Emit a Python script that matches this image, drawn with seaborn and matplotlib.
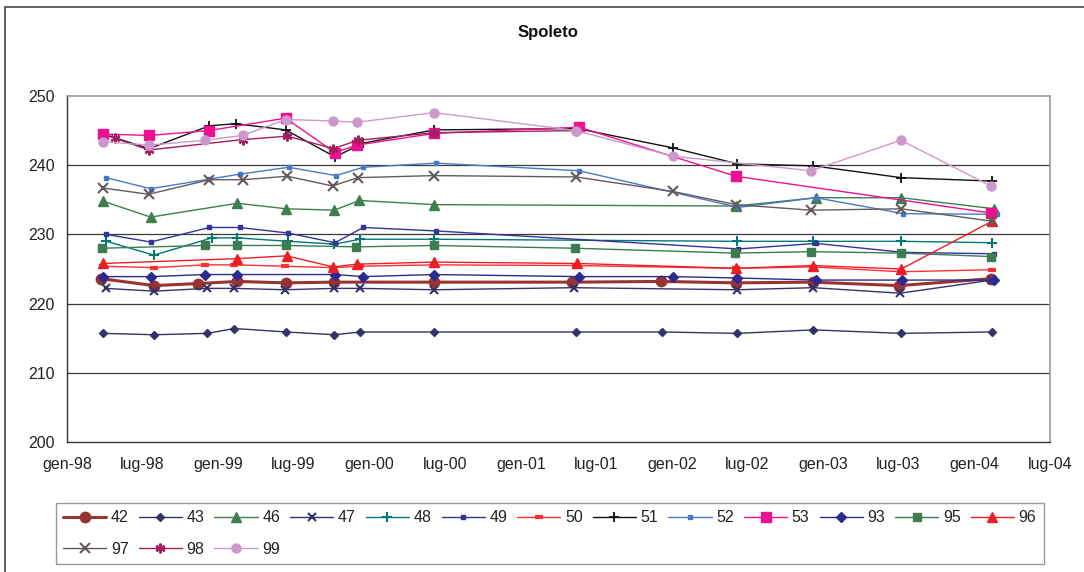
import matplotlib
matplotlib.use("Agg")
import matplotlib.pyplot as plt
from matplotlib.lines import Line2D
import pandas as pd
import seaborn as sns

# ---- data -------------------------------------------------------------
series_names = ["42", "43", "46", "47", "48", "49", "50", "51",
                "52", "53", "93", "95", "96", "97", "98", "99"]

dates_42 = ["1998-03-25", "1998-07-30", "1998-11-14", "1999-02-16", "1999-06-13", "1999-10-08",
            "2000-06-05", "2001-05-04", "2001-12-05", "2002-06-04", "2002-12-06", "2003-07-03", "2004-02-09"]
vals_42 = [223.6, 222.6, 222.9, 223.2, 223.0, 223.1, 223.1, 223.1, 223.2, 223.0, 223.1, 222.6, 223.6]

dates_43 = ["1998-03-29", "1998-07-30", "1998-12-06", "1999-02-09", "1999-06-14", "1999-10-08", "1999-12-10",
            "2000-06-06", "2001-05-14", "2001-12-07", "2002-06-07", "2002-12-08", "2003-07-08", "2004-02-12"]
vals_43 = [215.7, 215.5, 215.7, 216.4, 215.9, 215.5, 215.9, 215.9, 215.9, 215.9, 215.7, 216.2, 215.7, 215.9]

dates_46 = ["1998-03-29", "1998-07-22", "1999-02-16", "1999-06-14", "1999-10-08", "1999-12-08",
            "2000-06-06", "2002-06-04", "2002-12-14", "2003-07-08", "2004-02-18"]
vals_46 = [234.8, 232.5, 234.5, 233.7, 233.5, 234.9, 234.3, 234.1, 235.3, 235.3, 233.7]

dates_47 = ["1998-04-04", "1998-07-30", "1998-12-06", "1999-02-09", "1999-06-11", "1999-10-08", "1999-12-10",
            "2000-06-06", "2001-05-08", "2002-06-07", "2002-12-08", "2003-07-05", "2004-02-12"]
vals_47 = [222.2, 221.8, 222.2, 222.2, 222.0, 222.2, 222.2, 222.0, 222.3, 222.0, 222.3, 221.5, 223.4]

dates_48 = ["1998-04-06", "1998-07-30", "1998-12-17", "1999-02-16", "1999-06-18", "1999-10-08", "1999-12-10",
            "2000-06-06", "2002-06-07", "2002-12-08", "2003-07-08", "2004-02-12"]
vals_48 = [229.0, 227.0, 229.5, 229.5, 229.0, 228.6, 229.3, 229.3, 229.0, 229.0, 229.0, 228.8]

dates_49 = ["1998-04-06", "1998-07-22", "1998-12-11", "1999-02-22", "1999-06-18", "1999-10-10", "1999-12-17",
            "2000-06-10", "2002-06-10", "2002-12-14", "2003-07-13", "2004-02-17"]
vals_49 = [230.0, 228.9, 231.0, 231.0, 230.2, 228.8, 231.0, 230.5, 227.9, 228.7, 227.4, 227.2]

dates_50 = ["1998-03-29", "1998-07-30", "1998-11-30", "1999-02-09", "1999-06-11", "1999-10-06", "1999-12-10",
            "2000-06-06", "2001-05-14", "2002-06-04", "2002-12-06", "2003-07-08", "2004-02-12"]
vals_50 = [225.4, 225.2, 225.6, 225.6, 225.4, 225.2, 225.4, 225.6, 225.5, 225.1, 225.3, 224.6, 224.9]

dates_51 = ["1998-03-29", "1998-07-18", "1998-12-11", "1999-02-12", "1999-06-13", "1999-10-10", "1999-12-17",
            "2000-06-06", "2001-05-17", "2002-01-03", "2002-06-07", "2002-12-08", "2003-07-08", "2004-02-12"]
vals_51 = [244.5, 242.4, 245.7, 246.0, 245.1, 241.2, 243.2, 245.1, 245.3, 242.5, 240.2, 239.9, 238.2, 237.7]

dates_52 = ["1998-04-05", "1998-07-22", "1998-12-11", "1999-02-22", "1999-06-20", "1999-10-12", "1999-12-17",
            "2000-06-10", "2001-05-21", "2002-06-10", "2002-12-14", "2003-07-13", "2004-02-23"]
vals_52 = [238.2, 236.6, 238.0, 238.7, 239.7, 238.5, 239.7, 240.3, 239.2, 233.9, 235.3, 233.0, 232.9]

dates_53 = ["1998-03-29", "1998-07-18", "1998-12-09", "1999-06-13", "1999-10-10", "1999-12-01",
            "2000-06-06", "2001-05-21", "2002-06-04", "2004-02-09"]
vals_53 = [244.5, 244.3, 245.0, 246.8, 241.8, 242.9, 244.6, 245.5, 238.4, 233.1]

dates_93 = ["1998-03-29", "1998-07-22", "1998-11-30", "1999-02-16", "1999-10-10", "1999-12-17", "2000-06-06",
            "2001-05-21", "2002-01-03", "2002-06-07", "2002-12-14", "2003-07-10", "2004-02-17"]
vals_93 = [223.9, 223.9, 224.2, 224.2, 224.2, 223.9, 224.2, 223.9, 223.9, 223.7, 223.4, 223.4, 223.4]

dates_95 = ["1998-03-27", "1998-11-30", "1999-02-16", "1999-06-13", "1999-11-30", "2000-06-05",
            "2001-05-12", "2002-06-02", "2002-12-02", "2003-07-07", "2004-02-09"]
vals_95 = [228.0, 228.4, 228.4, 228.4, 228.2, 228.4, 228.0, 227.3, 227.5, 227.3, 226.8]

dates_96 = ["1998-03-29", "1999-02-16", "1999-06-15", "1999-10-06", "1999-12-01", "2000-06-06",
            "2001-05-17", "2002-06-04", "2002-12-06", "2003-07-08", "2004-02-12"]
vals_96 = [225.8, 226.5, 226.9, 225.3, 225.7, 226.0, 225.8, 225.1, 225.5, 225.0, 231.9]

dates_97 = ["1998-03-29", "1998-07-17", "1998-12-11", "1999-03-01", "1999-06-17", "1999-10-04", "1999-12-04",
            "2000-06-06", "2001-05-14", "2002-01-03", "2002-06-04", "2002-12-01", "2003-07-08", "2004-02-13"]
vals_97 = [236.7, 235.8, 237.9, 237.9, 238.4, 237.0, 238.2, 238.5, 238.3, 236.2, 234.3, 233.5, 233.7, 231.9]

dates_98 = ["1998-04-26", "1998-07-18", "1999-03-01", "1999-06-17", "1999-10-06", "1999-12-04",
            "2000-06-06", "2001-05-14"]
vals_98 = [243.9, 242.2, 243.7, 244.2, 242.4, 243.6, 244.7, 245.0]

dates_99 = ["1998-03-29", "1998-07-18", "1998-11-30", "1999-03-01", "1999-06-13", "1999-10-04", "1999-12-01",
            "2000-06-05", "2001-05-14", "2002-01-03", "2002-12-02", "2003-07-07", "2004-02-09"]
vals_99 = [243.4, 242.9, 243.6, 244.3, 246.6, 246.4, 246.2, 247.6, 245.0, 241.3, 239.2, 243.6, 237.0]

tick_dates = ["1998-01-01", "1998-07-01", "1999-01-01", "1999-07-01", "2000-01-01", "2000-07-01",
              "2001-01-01", "2001-07-01", "2002-01-01", "2002-07-01", "2003-01-01", "2003-07-01",
              "2004-01-01", "2004-07-01"]
tick_labels = ["gen-98", "lug-98", "gen-99", "lug-99", "gen-00", "lug-00", "gen-01", "lug-01",
               "gen-02", "lug-02", "gen-03", "lug-03", "gen-04", "lug-04"]
y_ticks = [200, 210, 220, 230, 240, 250]

series_data = {
    "42": (dates_42, vals_42), "43": (dates_43, vals_43), "46": (dates_46, vals_46),
    "47": (dates_47, vals_47), "48": (dates_48, vals_48), "49": (dates_49, vals_49),
    "50": (dates_50, vals_50), "51": (dates_51, vals_51), "52": (dates_52, vals_52),
    "53": (dates_53, vals_53), "93": (dates_93, vals_93), "95": (dates_95, vals_95),
    "96": (dates_96, vals_96), "97": (dates_97, vals_97), "98": (dates_98, vals_98),
    "99": (dates_99, vals_99),
}

# ---- styling per series (colour, marker, marker size, line width, marker edge width)
asterisk = (6, 2, 0)
styles = {
    "42": ("#993333", "o", 7.5, 2.2, 1.0),
    "43": ("#333366", "D", 4.2, 1.0, 1.0),
    "46": ("#3f7f4f", "^", 6.5, 1.0, 1.0),
    "47": ("#333366", "x", 5.5, 1.0, 1.5),
    "48": ("#007878", "+", 7.0, 1.0, 1.5),
    "49": ("#333399", "s", 3.2, 1.0, 1.0),
    "50": ("#ff3030", "_", 6.0, 1.0, 3.0),
    "51": ("#111111", "+", 7.0, 1.0, 1.3),
    "52": ("#4a78c8", "s", 3.5, 1.0, 1.0),
    "53": ("#ee1090", "s", 6.5, 1.0, 1.0),
    "93": ("#2a2a90", "D", 5.5, 1.0, 1.0),
    "95": ("#3c7c50", "s", 5.5, 1.0, 1.0),
    "96": ("#ee1c24", "^", 7.0, 1.0, 1.0),
    "97": ("#645a5a", "x", 6.5, 1.0, 1.5),
    "98": ("#a02060", asterisk, 7.0, 1.0, 1.6),
    "99": ("#cc99cc", "o", 6.5, 1.0, 1.0),
}

# ---- figure -------------------------------------------------------------
sns.set_theme(style="white")
plt.rcParams["font.family"] = ["Liberation Sans", "DejaVu Sans"]

W, H = 1084, 572
fig = plt.figure(figsize=(W / 100, H / 100), dpi=100)
ax = fig.add_axes([67 / W, 1 - 442 / H, (1050 - 67) / W, (442 - 96) / H])

handles = {}
for z, name in enumerate(series_names):
    d, v = series_data[name]
    col, mk, ms, lw, mew = styles[name]
    df = pd.DataFrame({"data": pd.to_datetime(d), "valore": v})
    sns.lineplot(data=df, x="data", y="valore", ax=ax, color=col, marker=mk,
                 markersize=ms, linewidth=lw, markeredgewidth=mew,
                 markeredgecolor=col, markerfacecolor=col, zorder=3 + z * 0.01,
                 errorbar=None, legend=False)
    handles[name] = ax.lines[-1]

ax.set_xlim(pd.Timestamp(tick_dates[0]), pd.Timestamp(tick_dates[-1]))
ax.set_ylim(200, 250)
ax.set_xticks(pd.to_datetime(tick_dates))
ax.set_xticklabels(tick_labels)
ax.set_yticks(y_ticks)
ax.set_xlabel("")
ax.set_ylabel("")
ax.tick_params(axis="both", direction="out", length=5, width=1, color="#333333",
               labelsize=11.5, labelcolor="#222222", pad=6)
ax.tick_params(axis="y", pad=4)

for yv in y_ticks[1:-1]:
    ax.axhline(yv, color="#3a3a3a", lw=0.9, zorder=1)

for side in ("left", "bottom"):
    ax.spines[side].set_color("#333333")
    ax.spines[side].set_linewidth(1.0)
for side in ("top", "right"):
    ax.spines[side].set_color("#a09898")
    ax.spines[side].set_linewidth(1.2)

fig.text(548 / W, 1 - 33 / H, "Spoleto", ha="center", va="center",
         fontsize=12, fontweight="bold", color="#111111")

# legend laid out row by row: first three columns hold two entries
order = ["42", "97", "43", "98", "46", "99", "47", "48", "49", "50",
         "51", "52", "53", "93", "95", "96"]
leg = fig.legend([handles[n] for n in order], order, loc="upper left",
                 bbox_to_anchor=(56 / W, 1 - 503 / H), ncol=13, frameon=True,
                 fancybox=False, edgecolor="#808080", fontsize=11.5,
                 handlelength=2.7, handletextpad=0.3, columnspacing=0.62,
                 borderpad=0.45, labelspacing=1.05, borderaxespad=0)
leg.get_frame().set_linewidth(1.0)
for t in leg.get_texts():
    t.set_color("#222222")

# chart area frame
fig.add_artist(Line2D([5 / W, 5 / W], [0, 1 - 7 / H], transform=fig.transFigure,
                      color="#555555", lw=1.3))
fig.add_artist(Line2D([5 / W, 1], [1 - 7 / H, 1 - 7 / H], transform=fig.transFigure,
                      color="#555555", lw=1.3))

fig.savefig("out.png", dpi=100, facecolor="white")
